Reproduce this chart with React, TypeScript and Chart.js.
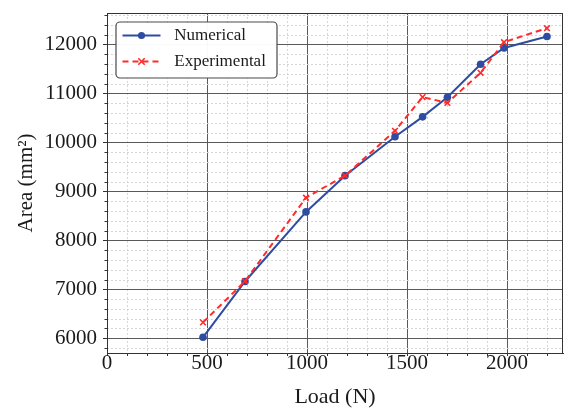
import { useEffect, useRef } from 'react';
import { Chart, registerables } from 'chart.js';

Chart.register(...registerables);

// ---- data ----
const loads = [480, 690, 995, 1190, 1440, 1578, 1702, 1868, 1985, 2200];
const numerical = [6030, 7170, 8590, 9330, 10125, 10530, 10930, 11605, 11935, 12170];
const experimental = [6335, 7175, 8880, 9330, 10245, 10933, 10815, 11430, 12055, 12341];
const seriesNames = ['Numerical', 'Experimental'];
const xTitle = 'Load (N)';
const yTitle = 'Area (mm²)';
const xRange = [0, 2280];
const yRange = [5710, 12650];
const xMajorTicks = [0, 500, 1000, 1500, 2000];
const yMajorTicks = [6000, 7000, 8000, 9000, 10000, 11000, 12000];
const xMinorStep = 100;
const yMinorStep = 200;

const SERIF = '"Liberation Serif", "Times New Roman", serif';
const BLUE = '#2E4CA0';
const RED = '#FF2A2A';
const TEXT = '#1a1a1a';

function stepTicks(min: number, max: number, step: number) {
  const out: { value: number }[] = [];
  for (let v = Math.ceil(min / step) * step; v <= max; v += step) out.push({ value: v });
  return out;
}

function zeroPad(s: any) {
  s.paddingTop = 0;
  s.paddingBottom = 0;
  s.paddingLeft = 0;
  s.paddingRight = 0;
}

const legendPlugin = {
  id: 'boxLegend',
  afterDraw(chart: any) {
    const { ctx, chartArea } = chart;
    const x0 = chartArea.left + 9;
    const y0 = chartArea.top + 9;
    const w = 161;
    const h = 56;
    ctx.save();
    ctx.beginPath();
    ctx.roundRect(x0, y0, w, h, 4);
    ctx.fillStyle = 'rgba(255,255,255,0.96)';
    ctx.fill();
    ctx.lineWidth = 1.2;
    ctx.strokeStyle = '#4a4a4a';
    ctx.stroke();
    chart.data.datasets.forEach((ds: any, i: number) => {
      const cy = y0 + 13.5 + i * 26;
      const lx1 = x0 + 6.5;
      const lx2 = x0 + 44.5;
      const mx = (lx1 + lx2) / 2;
      ctx.beginPath();
      ctx.setLineDash(ds.borderDash || []);
      ctx.strokeStyle = ds.borderColor;
      ctx.lineWidth = ds.borderWidth;
      ctx.moveTo(lx1, cy);
      ctx.lineTo(lx2, cy);
      ctx.stroke();
      ctx.setLineDash([]);
      if (ds.pointStyle === 'crossRot') {
        const r = 3.2;
        ctx.beginPath();
        ctx.lineWidth = 1.6;
        ctx.moveTo(mx - r, cy - r);
        ctx.lineTo(mx + r, cy + r);
        ctx.moveTo(mx - r, cy + r);
        ctx.lineTo(mx + r, cy - r);
        ctx.stroke();
      } else {
        ctx.beginPath();
        ctx.fillStyle = ds.backgroundColor;
        ctx.arc(mx, cy, 3.6, 0, Math.PI * 2);
        ctx.fill();
      }
      ctx.fillStyle = TEXT;
      ctx.font = `17px ${SERIF}`;
      ctx.textBaseline = 'middle';
      ctx.textAlign = 'left';
      ctx.fillText(ds.label, x0 + 58.3, cy + 0.5);
    });
    ctx.restore();
  },
};

const framePlugin = {
  id: 'frame',
  beforeDatasetsDraw(chart: any) {
    const { ctx, chartArea } = chart;
    ctx.save();
    ctx.strokeStyle = '#333';
    ctx.lineWidth = 1;
    ctx.strokeRect(
      Math.round(chartArea.left) + 0.5,
      Math.round(chartArea.top) + 0.5,
      Math.round(chartArea.right - chartArea.left) - 1,
      Math.round(chartArea.bottom - chartArea.top)
    );
    ctx.restore();
  },
};

export default function App() {
  const ref = useRef<HTMLCanvasElement | null>(null);

  useEffect(() => {
    if (!ref.current) return;
    const minorColor = (majors: number[]) => (c: any) =>
      c.tick && majors.includes(c.tick.value) ? 'rgba(0,0,0,0)' : '#d6d6d6';

    const chart = new Chart(ref.current, {
      type: 'scatter',
      data: {
        datasets: [
          {
            label: seriesNames[0],
            data: loads.map((x, i) => ({ x, y: numerical[i] })),
            showLine: true,
            borderColor: BLUE,
            backgroundColor: BLUE,
            borderWidth: 2,
            pointStyle: 'circle',
            pointRadius: 3.8,
            pointBorderWidth: 0,
            pointBackgroundColor: BLUE,
            order: 1,
            xAxisID: 'x',
            yAxisID: 'y',
          },
          {
            label: seriesNames[1],
            data: loads.map((x, i) => ({ x, y: experimental[i] })),
            showLine: true,
            borderColor: RED,
            backgroundColor: RED,
            borderWidth: 2,
            borderDash: [6, 4],
            pointStyle: 'crossRot',
            pointRadius: 4,
            pointBorderWidth: 1.6,
            pointBorderColor: RED,
            order: 0,
            xAxisID: 'x',
            yAxisID: 'y',
          },
        ],
      },
      options: {
        animation: false,
        responsive: true,
        maintainAspectRatio: false,
        layout: { autoPadding: false, padding: { left: 0, right: 2, top: 13, bottom: 0 } },
        plugins: {
          legend: { display: false },
          tooltip: { enabled: false },
        },
        scales: {
          x: {
            type: 'linear',
            position: 'bottom',
            weight: 1,
            min: xRange[0],
            max: xRange[1],
            afterBuildTicks: (s: any) => {
              s.ticks = xMajorTicks.map((v) => ({ value: v }));
            },
            ticks: {
              padding: 0,
              color: TEXT,
              font: { family: SERIF, size: 21, lineHeight: 1 },
              maxRotation: 0,
              autoSkip: false,
              callback: (v: any) => String(v),
            },
            grid: { color: '#5a5a5a', lineWidth: 1, drawTicks: false },
            border: { display: true, color: '#333', width: 1 },
            title: {
              display: true,
              text: xTitle,
              color: TEXT,
              font: { family: SERIF, size: 22, lineHeight: 1.2 },
              padding: { top: 0, bottom: 0 },
            },
            afterFit: (s: any) => {
              s.height = 57;
              zeroPad(s);
            },
          },
          x2: {
            type: 'linear',
            position: 'bottom',
            weight: 0,
            min: xRange[0],
            max: xRange[1],
            afterBuildTicks: (s: any) => {
              s.ticks = stepTicks(xRange[0], xRange[1], xMinorStep);
            },
            ticks: { display: false, autoSkip: false },
            grid: {
              color: minorColor(xMajorTicks),
              lineWidth: 1,
              drawTicks: true,
              tickLength: 3,
              tickColor: '#333',
            },
            border: { display: false, dash: [2, 2] },
            afterFit: (s: any) => {
              s.height = 0;
              zeroPad(s);
            },
          },
          y: {
            type: 'linear',
            position: 'left',
            weight: 1,
            min: yRange[0],
            max: yRange[1],
            afterBuildTicks: (s: any) => {
              s.ticks = yMajorTicks.map((v) => ({ value: v }));
            },
            ticks: {
              padding: 6,
              color: TEXT,
              autoSkip: false,
              font: { family: SERIF, size: 21, lineHeight: 1.2 },
              callback: (v: any) => String(v),
            },
            grid: { color: '#5a5a5a', lineWidth: 1, drawTicks: true, tickLength: 4, tickColor: '#333' },
            border: { display: true, color: '#333', width: 1 },
            title: {
              display: true,
              text: yTitle,
              color: TEXT,
              font: { family: SERIF, size: 21, lineHeight: 1.2 },
              padding: { top: 14, bottom: 0 },
            },
            afterFit: (s: any) => {
              s.width = 107;
              zeroPad(s);
            },
          },
          y2: {
            type: 'linear',
            position: 'left',
            weight: 0,
            min: yRange[0],
            max: yRange[1],
            afterBuildTicks: (s: any) => {
              s.ticks = stepTicks(yRange[0], yRange[1], yMinorStep);
            },
            ticks: { display: false, autoSkip: false },
            grid: {
              color: minorColor(yMajorTicks),
              lineWidth: 1,
              drawTicks: true,
              tickLength: 2.5,
              tickColor: '#333',
            },
            border: { display: false, dash: [2, 2] },
            afterFit: (s: any) => {
              s.width = 0;
              zeroPad(s);
            },
          },
        },
      },
      plugins: [framePlugin, legendPlugin],
    } as any);

    return () => chart.destroy();
  }, []);

  return (
    <div style={{ position: 'fixed', left: 0, top: 0, width: 565, height: 410, background: '#fff' }}>
      <canvas ref={ref} />
    </div>
  );
}
